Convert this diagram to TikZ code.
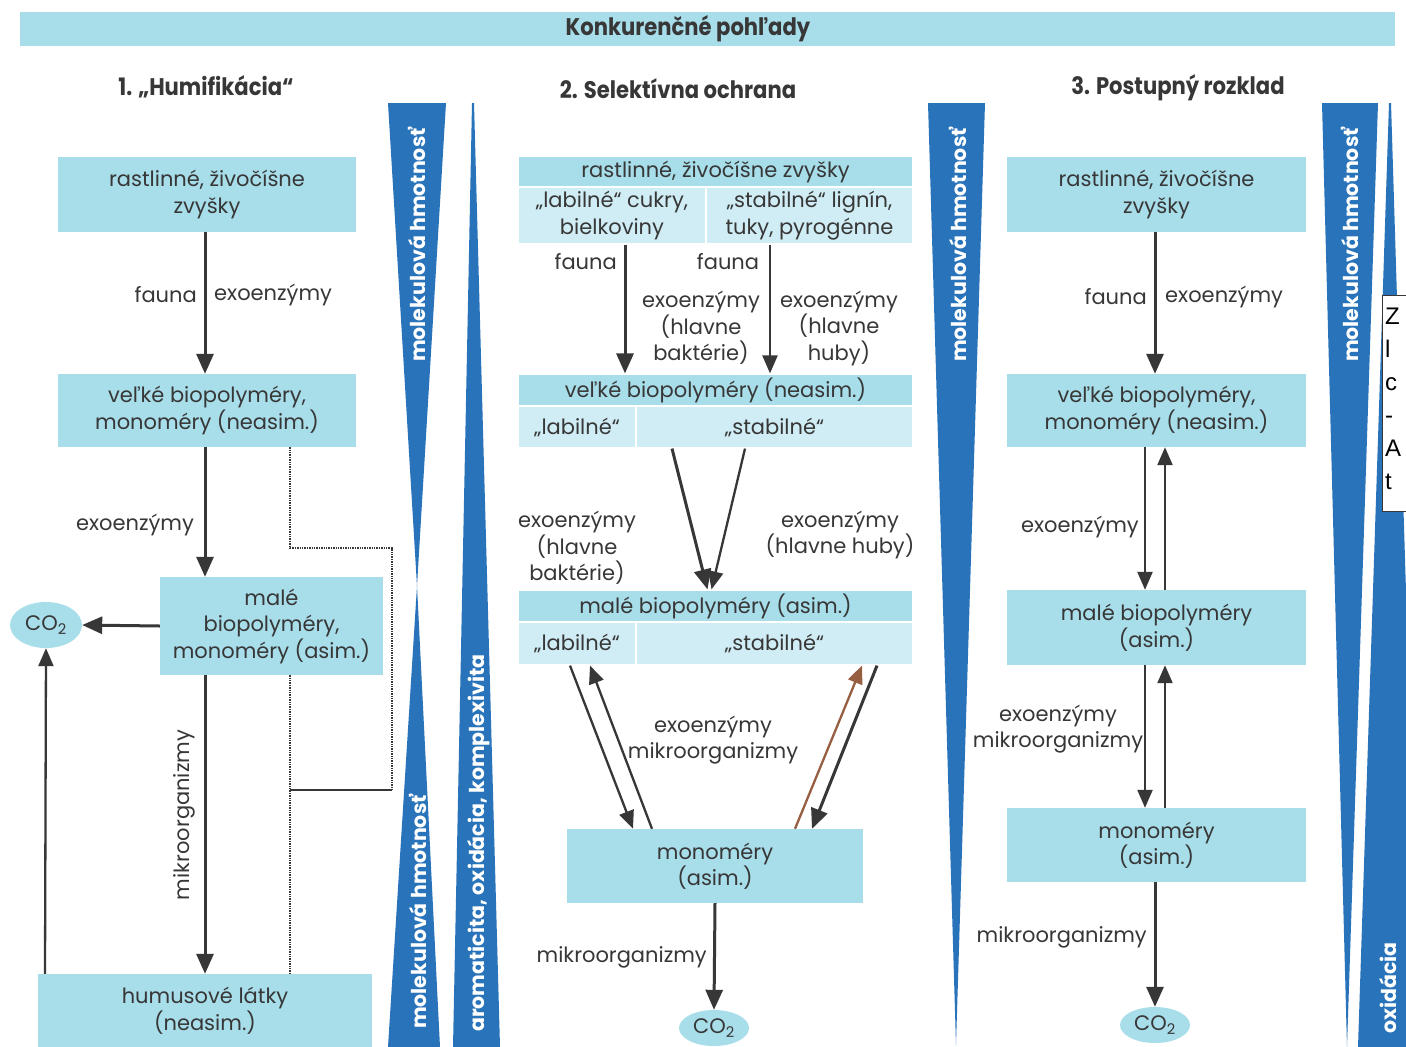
\documentclass[tikz,border=0pt]{standalone}
\usepackage{fontspec}
\setmainfont{Poppins}
\newfontfamily\headfont{Poppins}[FakeStretch=0.88]
\newfontfamily\notefont{Liberation Sans}
\usetikzlibrary{arrows.meta,shapes.geometric,calc}
\definecolor{boxblue}{RGB}{168,221,234}
\definecolor{cellblue}{RGB}{208,237,245}
\definecolor{wedgeblue}{RGB}{40,115,185}
\definecolor{ink}{RGB}{55,55,55}
\definecolor{brownarr}{RGB}{150,95,65}
\newcommand\bodyfs{\fontsize{21}{26.5}\selectfont}
\newcommand\wedgefs{\fontsize{20.5}{22}\selectfont\bfseries}
\newcommand\headfs{\fontsize{24}{26}\selectfont\headfont\bfseries}
\tikzset{
  box/.style={fill=boxblue, inner sep=0pt, align=center, text=ink, font=\bodyfs},
  hdr/.style={fill=boxblue, draw=white, line width=1.2pt, inner sep=0pt, align=center, text=ink, font=\bodyfs},
  cell/.style={fill=cellblue, draw=white, line width=1.2pt, inner sep=0pt, align=center, text=ink, font=\bodyfs},
  arr/.style={-{Triangle[length=20pt,width=17pt]}, line width=3pt, draw=ink},
  tarr/.style={-{Triangle[length=18pt,width=15pt]}, line width=2.3pt, draw=ink},
  lbl/.style={text=ink, align=center, inner sep=0pt, font=\bodyfs},
  wtext/.style={text=white, font=\wedgefs, rotate=90, inner sep=0pt},
  dots/.style={draw=ink, line width=1.8pt, dash pattern=on 1.4pt off 1pt},
  co/.style={ellipse, fill=boxblue, inner sep=0pt, text=ink, font=\bodyfs},
}
\begin{document}
\begin{tikzpicture}[x=1pt,y=-1pt]
\useasboundingbox (0,0) rectangle (1406,1047);
\fill[white] (0,0) rectangle (1406,1047);

% title and headings
\node[fill=boxblue, minimum width=1375pt, minimum height=34pt, inner sep=0pt] (titlebar) at (707.5,29) {};
\node[text=ink, font=\headfs, inner sep=0pt] (title) at (688,29) {Konkurenčné pohľady};
\node[text=ink, font=\headfs, inner sep=0pt] (h1) at (206,87) {1. „Humifikácia“};
\node[text=ink, font=\headfs, inner sep=0pt] (h2) at (678,89) {2. Selektívna ochrana};
\node[text=ink, font=\headfs, inner sep=0pt] (h3) at (1178,88) {3. Postupný rozklad};

% wedges
\fill[wedgeblue] (388,103) -- (446,103) -- (417,586) -- cycle;
\fill[wedgeblue] (417,586) -- (440,1047) -- (388,1047) -- cycle;
\fill[wedgeblue] (472,103) -- (474,103) -- (500,1047) -- (453,1047) -- cycle;
\fill[wedgeblue] (928,103) -- (985,103) -- (956,1045) -- cycle;
\fill[wedgeblue] (1322,103) -- (1378,103) -- (1347,1047) -- cycle;
\fill[wedgeblue] (1389,103) -- (1391,103) -- (1420,1047) -- (1358,1047) -- cycle;
\node[wtext] (w1) at (417,245) {molekulová hmotnosť};
\node[wtext] (w2) at (418,912) {molekulová hmotnosť};
\node[wtext] (w3) at (479,843) {aromaticita, oxidácia, komplexivita};
\node[wtext] (w4) at (958,245) {molekulová hmotnosť};
\node[wtext] (w5) at (1350,245) {molekulová hmotnosť};
\node[wtext] (w6) at (1388,988) {oxidácia};

% ---------------- column 1 ----------------
\node[box, minimum width=298pt, minimum height=75pt] (a1) at (207,194.5) {rastlinné, živočíšne\\zvyšky};
\node[box, minimum width=298pt, minimum height=73pt] (b1) at (207,410.5) {veľké biopolyméry,\\monoméry (neasim.)};
\node[box, minimum width=223pt, minimum height=98pt] (c1) at (271.5,626) {malé\\biopolyméry,\\monoméry (asim.)};
\node[box, minimum width=334pt, minimum height=73pt] (d1) at (205,1010.5) {humusové látky\\(neasim.)};
\node[co, minimum width=72pt, minimum height=46pt] (co2a) at (46,625) {CO\textsubscript{2}};

\draw[arr] ([xshift=-2pt]a1.south) -- ([xshift=-2pt]b1.north);
\node[lbl, anchor=east] (l1a) at (197,295) {fauna};
\node[lbl, anchor=west] (l1b) at (214,295) {exoenzýmy};
\draw[arr] ([xshift=-2pt]b1.south) -- ([xshift=-66.5pt]c1.north);
\node[lbl] (l1c) at (135,525) {exoenzýmy};
\draw[arr] (c1.west) -- (co2a.east);
\draw[arr] ([xshift=-66.5pt]c1.south) -- (d1.north);
\node[lbl, rotate=90] (l1d) at (184,815) {mikroorganizmy};
\draw[tarr] ([xshift=-160pt]d1.north) -- (co2a.south);
\coordinate (j0) at (392,548);
\coordinate (j1) at (392,790);
\coordinate (j2) at (290,790);
\draw[dots] ([xshift=83pt]b1.south) |- (j0) -- (j1);
\draw[ink, line width=1.8pt] (j1) -- (j2);
\draw[dots] ([xshift=18.5pt]c1.south) -- ([xshift=85pt]d1.north);

% ---------------- column 2 ----------------
\node[hdr, minimum width=395pt, minimum height=31pt] (a2h) at (715.5,172) {rastlinné, živočíšne zvyšky};
\node[cell, minimum width=188pt, minimum height=57pt] (a2l) at (612,215.5) {„labilné“ cukry,\\bielkoviny};
\node[cell, minimum width=207pt, minimum height=57pt] (a2r) at (809.5,215.5) {„stabilné“ lignín,\\tuky, pyrogénne};
\node[hdr, minimum width=395pt, minimum height=32pt] (b2h) at (715.5,390) {veľké biopolyméry (neasim.)};
\node[cell, minimum width=118pt, minimum height=42pt] (b2l) at (577,427) {„labilné“};
\node[cell, minimum width=277pt, minimum height=42pt] (b2r) at (774.5,427) {„stabilné“};
\node[hdr, minimum width=395pt, minimum height=32pt] (c2h) at (715.5,606) {malé biopolyméry (asim.)};
\node[cell, minimum width=118pt, minimum height=43pt] (c2l) at (577,643.5) {„labilné“};
\node[cell, minimum width=277pt, minimum height=43pt] (c2r) at (774.5,643.5) {„stabilné“};
\node[box, minimum width=296pt, minimum height=74pt] (d2) at (715,866) {monoméry\\(asim.)};
\node[co, minimum width=70pt, minimum height=36pt] (co2b) at (714,1028) {CO\textsubscript{2}};

\draw[arr] ([xshift=13pt]a2l.south) -- ([xshift=-90.5pt]b2h.north);
\draw[tarr] ([xshift=-39.5pt]a2r.south) -- ([xshift=54.5pt]b2h.north);
\node[lbl, anchor=east] (l2a) at (617,262) {fauna};
\node[lbl] (l2b) at (728,262) {fauna};
\node[lbl] (l2c) at (701,328) {exoenzýmy\\(hlavne\\baktérie)};
\node[lbl] (l2d) at (839,328) {exoenzýmy\\(hlavne\\huby)};
\draw[arr] ([xshift=-102.5pt]b2r.south) -- ([xshift=-8pt]c2h.north);
\draw[tarr] ([xshift=-29.5pt]b2r.south) -- ([xshift=-4pt]c2h.north);
\node[lbl] (l2e) at (577,548) {exoenzýmy\\(hlavne\\baktérie)};
\node[lbl] (l2f) at (840,535) {exoenzýmy\\(hlavne huby)};
\draw[tarr] ([xshift=-7pt]c2l.south) -- ([xshift=-82pt]d2.north);
\draw[tarr] ([xshift=-63pt]d2.north) -- ([xshift=13pt]c2l.south);
\draw[tarr, draw=brownarr] ([xshift=80pt]d2.north) -- ([xshift=87.5pt]c2r.south);
\draw[arr] ([xshift=102.5pt]c2r.south) -- ([xshift=97pt]d2.north);
\node[lbl] (l2g) at (713,740) {exoenzýmy\\mikroorganizmy};
\draw[arr] (d2.south) -- (co2b.north);
\node[lbl, anchor=east] (l2h) at (707,957) {mikroorganizmy};

% ---------------- column 3 ----------------
\node[box, minimum width=299pt, minimum height=75pt] (a3) at (1156.5,194.5) {rastlinné, živočíšne\\zvyšky};
\node[box, minimum width=299pt, minimum height=73pt] (b3) at (1156.5,410.5) {veľké biopolyméry,\\monoméry (neasim.)};
\node[box, minimum width=299pt, minimum height=75pt] (c3) at (1156.5,627.5) {malé biopolyméry\\(asim.)};
\node[box, minimum width=299pt, minimum height=74pt] (d3) at (1156.5,845) {monoméry\\(asim.)};
\node[co, minimum width=70pt, minimum height=36pt] (co2c) at (1155,1025) {CO\textsubscript{2}};

\draw[arr] ([xshift=-1.5pt]a3.south) -- ([xshift=-1.5pt]b3.north);
\node[lbl, anchor=east] (l3a) at (1147,297) {fauna};
\node[lbl, anchor=west] (l3b) at (1165,297) {exoenzýmy};
\draw[tarr] ([xshift=-11.5pt]b3.south) -- ([xshift=-11.5pt]c3.north);
\draw[tarr] ([xshift=8.5pt]c3.north) -- ([xshift=8.5pt]b3.south);
\node[lbl, anchor=east] (l3c) at (1139,527) {exoenzýmy};
\draw[tarr] ([xshift=-11.5pt]c3.south) -- ([xshift=-11.5pt]d3.north);
\draw[tarr] ([xshift=8.5pt]d3.north) -- ([xshift=8.5pt]c3.south);
\node[lbl] (l3d) at (1058,729) {exoenzýmy\\mikroorganizmy};
\draw[arr] ([xshift=-1.5pt]d3.south) -- (co2c.north);
\node[lbl, anchor=east] (l3e) at (1147,937) {mikroorganizmy};

% ---------------- cut-off note box at right edge ----------------
\node[draw=ink, fill=white, line width=1pt, minimum width=40pt, minimum height=216pt, anchor=north west, inner sep=0pt] (note) at (1382,295) {};
\begin{scope}
\clip (1383,296) rectangle (1406,510);
\node[anchor=north west, align=left, inner sep=0pt, text=black, font=\notefont\fontsize{24}{33}\selectfont] (notetext) at (1385,308) {Z\\l\\c\\-\\A\\t};
\end{scope}
\end{tikzpicture}
\end{document}
